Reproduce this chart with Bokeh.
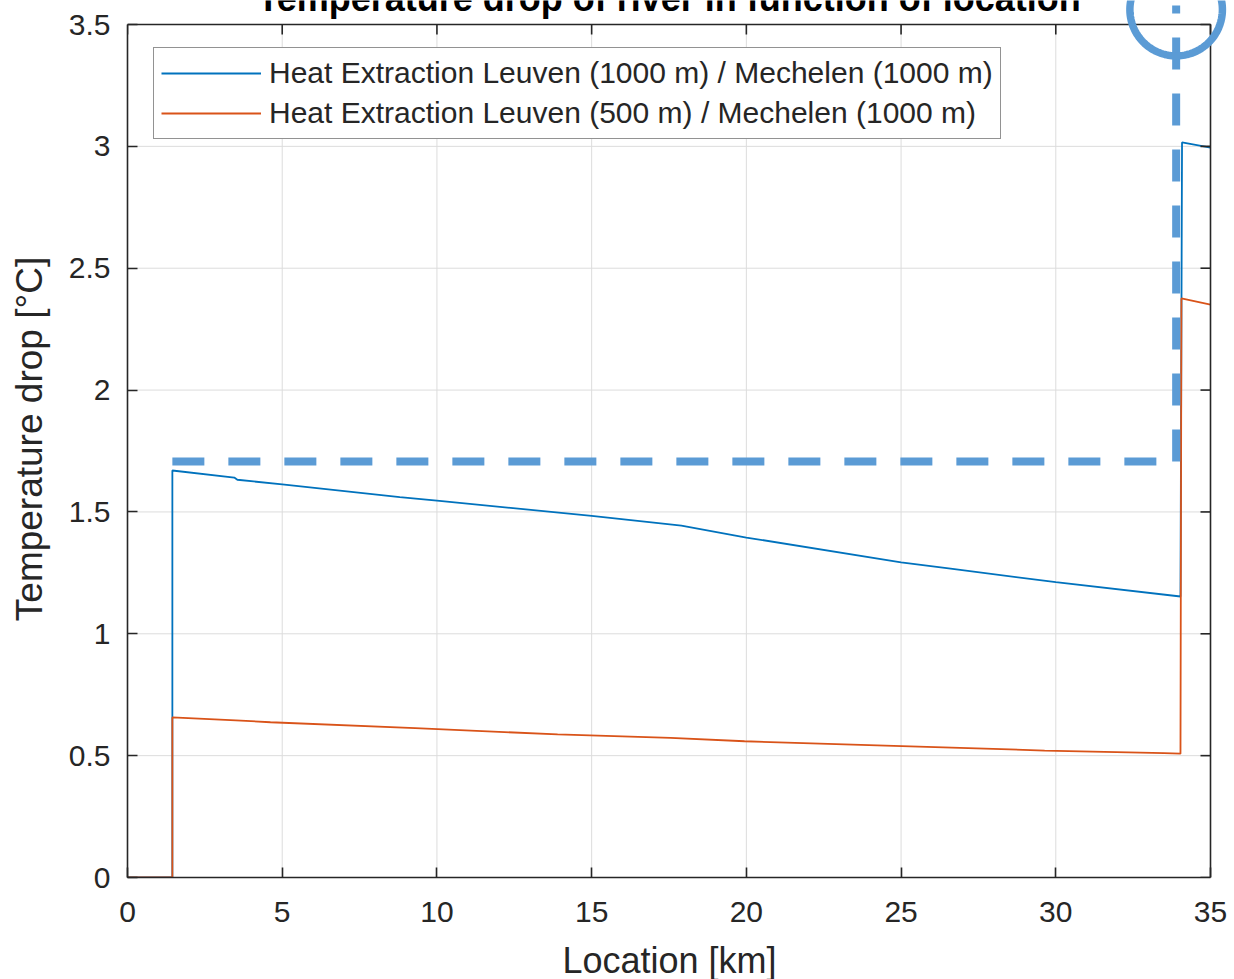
import numpy as np
from bokeh.plotting import figure
from bokeh.models import (Range1d, FixedTicker, NumeralTickFormatter, Title,
                          Legend, LegendItem, Arrow, Label, PolyAnnotation)
from bokeh.embed import file_html
from bokeh.resources import INLINE

# ---------------- data ----------------
title_text = "Temperature drop of river in function of location"
x_label = "Location [km]"
y_label = "Temperature drop [°C]"
x_ticks = [0, 5, 10, 15, 20, 25, 30, 35]
y_ticks = [0, 0.5, 1, 1.5, 2, 2.5, 3, 3.5]
x_min, x_max = 0, 35
y_min, y_max = 0, 3.5

series1_name = "Heat Extraction Leuven (1000 m) / Mechelen (1000 m)"
series1_x = [0, 1.45, 1.45, 3.45, 3.55, 5.0, 8.8, 10.0, 15.0, 17.9, 20.0, 25.0, 26.6, 30.0, 34.03, 34.08, 35.0]
series1_y = [0, 0, 1.670, 1.641, 1.632, 1.613, 1.561, 1.546, 1.484, 1.444, 1.395, 1.293, 1.267, 1.212, 1.153, 3.016, 2.995]

series2_name = "Heat Extraction Leuven (500 m) / Mechelen (1000 m)"
series2_x = [0, 1.45, 1.45, 3.5, 4.62, 9.3, 13.9, 17.55, 19.94, 24.76, 29.64, 33.5, 34.03, 34.06, 35.0]
series2_y = [0, 0, 0.657, 0.645, 0.637, 0.613, 0.587, 0.573, 0.559, 0.540, 0.521, 0.510, 0.508, 2.376, 2.351]

# annotation (hand-drawn highlight) in data coordinates
annot_level = 1.707
annot_x_start = 1.45
annot_x_corner = 33.89
annot_y_top = 3.578
circle_cx, circle_cy = 33.89, 3.561
circle_rx, circle_ry = 1.495, 0.1898

# ---------------- layout / styles ----------------
BOX_W, BOX_H = 1083, 853          # axes box in px
PAD_TOP, PAD_RIGHT = 24, 24       # room above / right of the box (for title & circle)
PX_X = BOX_W / (x_max - x_min)
PX_Y = BOX_H / (y_max - y_min)
TICK = 10                         # inward tick length in px

C_BLUE = "#0072BD"
C_ORANGE = "#D95319"
C_ANNOT = "#5B9BD5"
C_AX = "#262626"
C_GRID = "#DCDCDC"
FONT = "Liberation Sans"

p = figure(frame_width=BOX_W + PAD_RIGHT, frame_height=BOX_H + PAD_TOP,
           output_backend="svg", toolbar_location=None,
           x_range=Range1d(x_min, x_max + PAD_RIGHT / PX_X),
           y_range=Range1d(y_min, y_max + PAD_TOP / PX_Y),
           min_border_left=127, min_border_right=0, min_border_top=0, min_border_bottom=102)
p.background_fill_color = "white"
p.border_fill_color = "white"
p.outline_line_color = None
p.xgrid.visible = False
p.ygrid.visible = False

# grid lines bounded to the axes box
p.segment(x0=x_ticks, y0=[y_min] * len(x_ticks), x1=x_ticks, y1=[y_max] * len(x_ticks),
          line_color=C_GRID, line_width=1, level="underlay")
p.segment(x0=[x_min] * len(y_ticks), y0=y_ticks, x1=[x_max] * len(y_ticks), y1=y_ticks,
          line_color=C_GRID, line_width=1, level="underlay")

r1 = p.line(series1_x, series1_y, line_color=C_BLUE, line_width=1.8)
r2 = p.line(series2_x, series2_y, line_color=C_ORANGE, line_width=1.8)

# top and right edges of the box with inward ticks
p.line([x_min, x_max, x_max], [y_max, y_max, y_min], line_color=C_AX, line_width=1.6)
p.segment(x0=x_ticks, y0=[y_max] * len(x_ticks), x1=x_ticks,
          y1=[y_max - TICK / PX_Y] * len(x_ticks), line_color=C_AX, line_width=1.6)
p.segment(x0=[x_max] * len(y_ticks), y0=y_ticks, x1=[x_max - TICK / PX_X] * len(y_ticks),
          y1=y_ticks, line_color=C_AX, line_width=1.6)

# axes styling
for ax in (p.xaxis[0], p.yaxis[0]):
    ax.axis_line_color = C_AX
    ax.axis_line_width = 1.6
    ax.major_tick_line_color = C_AX
    ax.major_tick_line_width = 1.6
    ax.major_tick_in = TICK
    ax.major_tick_out = 0
    ax.minor_tick_line_color = None
    ax.major_label_text_font = FONT
    ax.major_label_text_font_size = "30px"
    ax.major_label_text_color = C_AX
    ax.axis_label_text_font = FONT
    ax.axis_label_text_font_style = "normal"
    ax.axis_label_text_color = C_AX
    ax.axis_label_text_font_size = "37px"

p.xaxis[0].bounds = (x_min, x_max)
p.yaxis[0].bounds = (y_min, y_max)
p.xaxis[0].ticker = FixedTicker(ticks=x_ticks)
p.yaxis[0].ticker = FixedTicker(ticks=y_ticks)
p.yaxis[0].formatter = NumeralTickFormatter(format="0.[0]")
p.yaxis[0].axis_label = y_label
p.xaxis[0].major_label_standoff = 24
p.yaxis[0].major_label_standoff = 17
p.yaxis[0].axis_label_standoff = 16

# x-axis label as a "below" title so it can be centred under the box (not the wider frame)
p.add_layout(Title(text=x_label, align="left", offset=435, vertical_align="top",
                   standoff=30, text_font=FONT, text_font_size="36px",
                   text_font_style="normal", text_color=C_AX), "below")

legend = Legend(items=[LegendItem(label=series1_name, renderers=[r1]),
                       LegendItem(label=series2_name, renderers=[r2])],
                location=(26, BOX_H - 115), padding=7, spacing=4,
                glyph_width=100, glyph_height=36, label_height=36, label_standoff=8,
                label_text_font=FONT, label_text_font_size="30px", label_text_color=C_AX,
                border_line_color=C_AX, border_line_width=1.5,
                background_fill_color="white", background_fill_alpha=1.0)
p.add_layout(legend, "center")

# highlight annotation: dashed L-shaped line and circle
p.add_layout(Arrow(end=None, x_start=annot_x_start, y_start=annot_level,
                   x_end=annot_x_corner, y_end=annot_level,
                   line_color=C_ANNOT, line_width=8, line_dash="32 24", line_cap="butt"))
p.add_layout(Arrow(end=None, x_start=annot_x_corner, y_start=annot_level,
                   x_end=annot_x_corner, y_end=annot_y_top,
                   line_color=C_ANNOT, line_width=8, line_dash="32 24", line_cap="butt"))
theta = np.linspace(0, 2 * np.pi, 160)
p.add_layout(PolyAnnotation(xs=list(circle_cx + circle_rx * np.cos(theta)),
                            ys=list(circle_cy + circle_ry * np.sin(theta)),
                            fill_color=None, fill_alpha=0,
                            line_color=C_ANNOT, line_alpha=1.0, line_width=7.5))

# title (cut off at the top in the reference)
p.add_layout(Label(x=(x_min + x_max) / 2, y=y_max + 26 / PX_Y, text=title_text,
                   text_align="center", text_baseline="alphabetic", text_font=FONT,
                   text_font_size="36px", text_font_style="bold", text_color="black"))

open("out.html", "w").write(file_html(p, INLINE))
